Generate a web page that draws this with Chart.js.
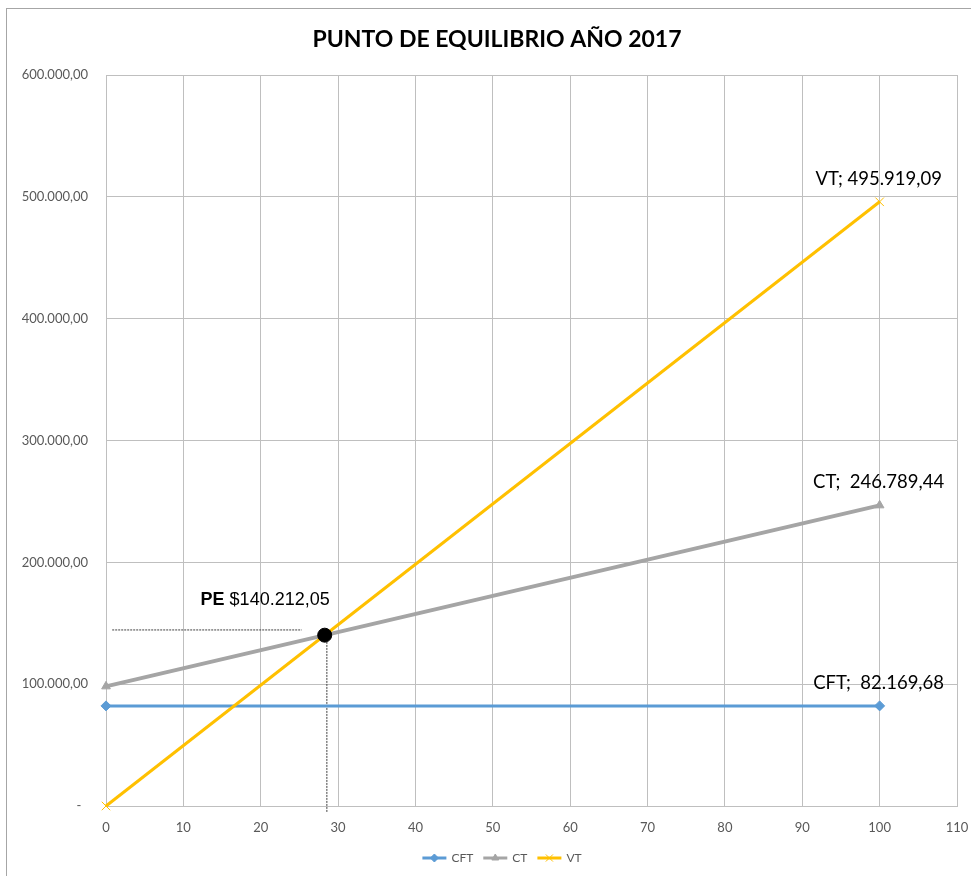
<!DOCTYPE html>
<html lang="es">
<head>
  <meta charset="UTF-8" />
  <title>Punto de equilibrio 2017</title>
  <script src="https://cdn.jsdelivr.net/npm/chart.js"></script>
  <style>
    body { margin:0; background:#fff; }
    canvas { display:block; }
  </style>
</head>
<body>
  <canvas id="chartPE" width="971" height="876"></canvas>
  <script>
    // unidades (eje X) y valores de cada serie
    const xValues   = [0, 100];
    const cftValues = [82169.68, 82169.68];
    const ctValues  = [98209.00, 246789.44];
    const vtValues  = [0, 495919.09];
    const seriesNames = ['CFT', 'CT', 'VT'];
    const labelSeps = ['  ', '  ', ' '];

    // punto de equilibrio
    const peX = 28.27;
    const peY = 140212.05;

    // lineas guia punteadas
    const guideHx = [0.8, 25.3];
    const guideHy = [144500, 144500];
    const guideVx = [28.55, 28.55];
    const guideVy = [139600, -5000];

    const xMin = 0, xMax = 110, xStep = 10;
    const yMin = 0, yMax = 600000, yStep = 100000;

    const titleText = 'PUNTO DE EQUILIBRIO AÑO 2017';
    const colors = ['#5b9bd5', '#a5a5a5', '#ffc000'];
    const markers = ['rectRot', 'triangle', 'crossRot'];

    function fmt(v) {
      let parts = Math.abs(v).toFixed(2).split('.');
      let ent = parts[0].replace(/\B(?=(\d{3})+(?!\d))/g, '.');
      return ent + ',' + parts[1];
    }
    function pts(xs, ys) { return xs.map((x, i) => ({x: x, y: ys[i]})); }

    const seriesValues = [cftValues, ctValues, vtValues];
    const datasets = seriesValues.map((vals, i) => ({
      label: seriesNames[i],
      data: pts(xValues, vals),
      showLine: true,
      clip: 10,
      borderColor: colors[i],
      backgroundColor: colors[i],
      borderWidth: i === 1 ? 4 : 3,
      pointStyle: markers[i],
      pointRadius: i === 2 ? 6 : 5,
      pointBorderWidth: 1,
      pointBorderColor: colors[i],
      pointBackgroundColor: colors[i],
      order: 3 - i
    }));
    datasets.push({
      label: 'guiaH', data: pts(guideHx, guideHy), showLine: true,
      borderColor: '#404040', borderWidth: 1, borderDash: [2, 1], pointRadius: 0, order: 5
    });
    datasets.push({
      label: 'guiaV', data: pts(guideVx, guideVy), showLine: true, clip: 10,
      borderColor: '#404040', borderWidth: 1, borderDash: [2, 1], pointRadius: 0, order: 5
    });
    datasets.push({
      label: 'PE', data: [{x: peX, y: peY}], pointRadius: 7,
      backgroundColor: '#000', borderColor: '#000', pointStyle: 'circle', order: 0
    });

    const framePlugin = {
      id: 'frame',
      beforeDraw(chart) {
        const ctx = chart.ctx;
        ctx.save();
        ctx.fillStyle = '#fff';
        ctx.fillRect(0, 0, chart.width, chart.height);
        ctx.strokeStyle = '#a6a6a6';
        ctx.lineWidth = 1;
        ctx.strokeRect(6.5, 8.5, chart.width + 10, chart.height + 10);
        // titulo
        ctx.fillStyle = '#000';
        ctx.textAlign = 'center';
        ctx.textBaseline = 'middle';
        ctx.font = 'bold 23px Lato, sans-serif';
        ctx.fillText(titleText, 497, 40);
        ctx.restore();
      },
      afterDraw(chart) {
        // leyenda: linea con marcador + nombre
        const ctx = chart.ctx;
        ctx.save();
        ctx.font = '12px Lato, sans-serif';
        ctx.textBaseline = 'middle';
        const iconW = 24, gap = 5, sep = 10, cy = 858;
        const widths = seriesNames.map(n => iconW + gap + ctx.measureText(n).width);
        const total = widths.reduce((a, b) => a + b, 0) + sep * (seriesNames.length - 1);
        let x = 502 - total / 2;
        seriesNames.forEach((n, i) => {
          ctx.strokeStyle = colors[i]; ctx.fillStyle = colors[i]; ctx.lineWidth = 3;
          ctx.beginPath(); ctx.moveTo(x, cy); ctx.lineTo(x + iconW, cy); ctx.stroke();
          ctx.lineWidth = 1;
          Chart.helpers.drawPoint(ctx, {pointStyle: markers[i], radius: i === 2 ? 5 : 4, borderWidth: 1, rotation: 0}, x + iconW / 2, cy);
          ctx.fillStyle = '#595959';
          ctx.textAlign = 'left';
          ctx.fillText(n, x + iconW + gap, cy);
          x += widths[i] + sep;
        });
        ctx.restore();
      }
    };

    const labelsPlugin = {
      id: 'endLabels',
      afterDatasetsDraw(chart) {
        const ctx = chart.ctx;
        ctx.save();
        ctx.fillStyle = '#000';
        ctx.textAlign = 'center';
        ctx.textBaseline = 'middle';
        ctx.font = '18.5px Lato, sans-serif';
        for (let i = 0; i < 3; i++) {
          const p = chart.getDatasetMeta(i).data[1];
          const txt = seriesNames[i] + ';' + labelSeps[i] + fmt(seriesValues[i][1]);
          ctx.fillText(txt, p.x - 1, p.y - 23);
        }
        // etiqueta del punto de equilibrio
        const pe = chart.getDatasetMeta(5).data[0];
        ctx.textAlign = 'left';
        ctx.font = 'bold 18px "Liberation Sans", Arial, sans-serif';
        const t1 = 'PE ';
        const t2 = '$' + fmt(peY);
        const w1 = ctx.measureText(t1).width;
        ctx.font = '18px "Liberation Sans", Arial, sans-serif';
        const w2 = ctx.measureText(t2).width;
        const x0 = pe.x + 5 - w1 - w2;
        const yy = pe.y - 35;
        ctx.font = 'bold 18px "Liberation Sans", Arial, sans-serif';
        ctx.fillText(t1, x0, yy);
        ctx.font = '18px "Liberation Sans", Arial, sans-serif';
        ctx.fillText(t2, x0 + w1, yy);
        ctx.restore();
      }
    };

    const chart = new Chart(document.getElementById('chartPE'), {
      type: 'scatter',
      data: { datasets: datasets },
      plugins: [framePlugin, labelsPlugin],
      options: {
        responsive: false,
        animation: false,
        layout: { padding: { left: 6, right: 14, top: 75, bottom: 34 } },
        plugins: {
          tooltip: { enabled: false },
          title: { display: false },
          legend: { display: false }
        },
        scales: {
          x: {
            type: 'linear', min: xMin, max: xMax,
            afterFit(s) { s.height = 36; s.paddingLeft = 0; s.paddingRight = 0; },
            ticks: { stepSize: xStep, padding: 14, color: '#595959', font: { family: 'Lato, sans-serif', size: 13 } },
            grid: { color: '#bfbfbf', drawTicks: false },
            border: { color: '#bfbfbf' }
          },
          y: {
            type: 'linear', min: yMin, max: yMax,
            afterFit(s) { s.width = 100; s.paddingTop = 0; s.paddingBottom = 0; },
            ticks: {
              stepSize: yStep, padding: 18, color: '#595959',
              font: { family: 'Lato, sans-serif', size: 13 },
              callback: v => v === 0 ? '-  ' : fmt(v)
            },
            grid: { color: '#bfbfbf', drawTicks: false },
            border: { color: '#bfbfbf' }
          }
        }
      }
    });
  </script>
</body>
</html>
